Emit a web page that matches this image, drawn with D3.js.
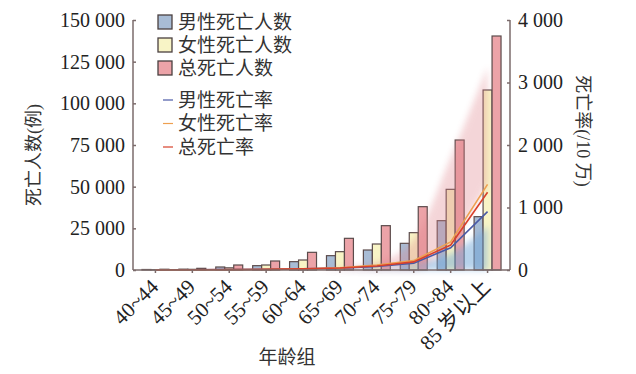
<!DOCTYPE html>
<html>
<head>
<meta charset="utf-8">
<script src="https://cdn.jsdelivr.net/npm/d3@7"></script>
<style>
  body { margin: 0; background: #fff; }
  svg text { font-family: "Liberation Serif", "Noto Sans CJK SC", serif; fill: #222; }
</style>
</head>
<body>
<svg id="chart" width="636" height="374"></svg>
<script>
/************************************ Data *******************************/
var ageGroups = ["40~44", "45~49", "50~54", "55~59", "60~64", "65~69", "70~74", "75~79", "80~84", "85 岁以上"];

// death counts (cases)
var maleDeaths   = [300, 500, 1800, 2600, 5000, 8600, 12000, 16000, 29600, 32000];
var femaleDeaths = [150, 400, 1300, 3000, 6000, 11000, 15600, 22400, 48400, 108000];
var totalDeaths  = [450, 1000, 3000, 5400, 10600, 19000, 26600, 38000, 78000, 140400];

// death rates (/10万)
var maleRate   = [2, 4, 7, 11, 18, 30, 55, 110, 355, 935];
var femaleRate = [1, 2, 5, 9, 17, 34, 80, 150, 450, 1370];
var totalRate  = [1, 3, 6, 10, 18, 32, 65, 130, 400, 1245];

// shaded bands
var totalBandLo = [0, 0, 0, 0, 0, 0, 0, 0, 420, 1380];
var totalBandHi = [0, 0, 0, 0, 0, 30, 120, 480, 1800, 3250];
var maleBandLo  = [0, 0, 0, 0, 0, 0, 0, 0, 0, 0];
var maleBandHi  = [0, 0, 0, 0, 0, 10, 40, 90, 260, 700];

var leftTicks  = [0, 25000, 50000, 75000, 100000, 125000, 150000];
var rightTicks = [0, 1000, 2000, 3000, 4000];

/************************************ Setup *******************************/
var svg = d3.select("#chart");
var pL = 133, pR = 510, pT = 20, pB = 270;
var axisColor = "#7b6b6b";
var fmt = function(v){ return d3.format(",")(v).replace(/,/g, " "); };

var x0 = d3.scaleBand().domain(ageGroups).range([pL, pR])
	.paddingInner(0.27).paddingOuter(0.243);
var series = ["male", "female", "total"];
var x1 = d3.scaleBand().domain(series).range([0, x0.bandwidth()]);
var yL = d3.scaleLinear().domain([0, 150000]).range([pB, pT]);
var yR = d3.scaleLinear().domain([0, 4000]).range([pB, pT]);

var barFill = { male: "#a8bcd5", female: "#f8f4c6", total: "#eca3a8" };
var lineColor = { male: "#4a5aa6", female: "#eea050", total: "#d8412c" };

var defs = svg.append("defs");
defs.append("filter").attr("id", "soft")
	.attr("x", "-20%").attr("y", "-20%").attr("width", "140%").attr("height", "140%")
	.append("feGaussianBlur").attr("stdDeviation", 3);

/************************************ Bars *******************************/
var rows = ageGroups.map(function(g, i){
	return { group: g, vals: [
		{ key: "male", v: maleDeaths[i] },
		{ key: "female", v: femaleDeaths[i] },
		{ key: "total", v: totalDeaths[i] }] };
});

svg.append("g").selectAll("g").data(rows).enter().append("g")
	.attr("transform", function(d){ return "translate(" + x0(d.group) + ",0)"; })
	.selectAll("rect").data(function(d){ return d.vals; }).enter().append("rect")
	.attr("x", function(d){ return x1(d.key); })
	.attr("y", function(d){ return yL(d.v); })
	.attr("width", x1.bandwidth())
	.attr("height", function(d){ return pB - yL(d.v); })
	.style("fill", function(d){ return barFill[d.key]; })
	.style("stroke", "#5b4b4b")
	.style("stroke-width", 1.2);

/************************************ Bands *******************************/
var cx = function(i){ return x0(ageGroups[i]) + x0.bandwidth() / 2; };
var idx = d3.range(ageGroups.length);

var band = function(lo, hi){
	return d3.area().x(function(i){ return cx(i); })
		.y0(function(i){ return yR(lo[i]); })
		.y1(function(i){ return yR(hi[i]); })
		.curve(d3.curveMonotoneX);
};
svg.append("path").datum(idx).attr("d", band(totalBandLo, totalBandHi))
	.style("fill", "#df8088").style("opacity", 0.32).attr("filter", "url(#soft)");
svg.append("path").datum(idx).attr("d", band(maleBandLo, maleBandHi))
	.style("fill", "#6fa6d8").style("opacity", 0.5).attr("filter", "url(#soft)");

/************************************ Lines *******************************/
var rateLine = function(arr){
	return d3.line().x(function(i){ return cx(i); }).y(function(i){ return yR(arr[i]); });
};
[["male", maleRate], ["female", femaleRate], ["total", totalRate]].forEach(function(s){
	svg.append("path").datum(idx).attr("d", rateLine(s[1]))
		.style("fill", "none").style("stroke", lineColor[s[0]]).style("stroke-width", 1.6);
});

/************************************ Axes *******************************/
var gL = svg.append("g").attr("transform", "translate(" + pL + ",0)")
	.call(d3.axisLeft(yL).tickValues(leftTicks).tickFormat(fmt).tickSizeInner(-3).tickSizeOuter(0).tickPadding(8));
var gR = svg.append("g").attr("transform", "translate(" + pR + ",0)")
	.call(d3.axisRight(yR).tickValues(rightTicks).tickFormat(fmt).tickSizeInner(-3).tickSizeOuter(0).tickPadding(8));
var gB = svg.append("g").attr("transform", "translate(0," + pB + ")")
	.call(d3.axisBottom(x0).tickSizeInner(3).tickSizeOuter(0).tickPadding(4));

[gL, gR, gB].forEach(function(g){
	g.selectAll("path, line").style("stroke", axisColor).style("stroke-width", 1.5);
	g.selectAll("text").style("font-size", "20px").style("fill", "#222")
		.style("font-family", "'Liberation Serif', 'Noto Sans CJK SC', serif");
});
gB.select(".domain").attr("d", "M" + pL + ",0H" + pR);
gL.select(".domain").attr("d", "M0," + pT + "V" + pB);
gR.select(".domain").attr("d", "M0," + pT + "V" + pB);
gB.selectAll("text")
	.style("font-size", "21px")
	.attr("text-anchor", "end")
	.attr("dy", "0.35em")
	.attr("transform", "translate(-6,8) rotate(-45)");

/************************************ Titles *******************************/
svg.append("text").attr("x", 287).attr("y", 364).attr("text-anchor", "middle")
	.style("font-size", "19px").style("fill", "#333").text("年龄组");
svg.append("text").attr("transform", "translate(40,155) rotate(-90)").attr("text-anchor", "middle")
	.style("font-size", "18px").style("fill", "#333").text("死亡人数(例)");
svg.append("text").attr("transform", "translate(577,131) rotate(90)").attr("text-anchor", "middle")
	.style("font-size", "18px").style("fill", "#333").text("死亡率(/10 万)");

/************************************ Legend *******************************/
var legendBars = [["male", "男性死亡人数"], ["female", "女性死亡人数"], ["total", "总死亡人数"]];
var legendLines = [["male", "男性死亡率"], ["female", "女性死亡率"], ["total", "总死亡率"]];
var lg = svg.append("g");
legendBars.forEach(function(d, i){
	var yy = 22 + i * 23;
	lg.append("rect").attr("x", 158).attr("y", yy - 7).attr("width", 14).attr("height", 14)
		.style("fill", barFill[d[0]]).style("stroke", "#4a4040").style("stroke-width", 1.3);
	lg.append("text").attr("x", 178).attr("y", yy).attr("dy", "0.35em")
		.style("font-size", "19px").style("fill", "#333").text(d[1]);
});
legendLines.forEach(function(d, i){
	var yy = 100 + i * 23.5;
	lg.append("line").attr("x1", 163).attr("x2", 173).attr("y1", yy).attr("y2", yy)
		.style("stroke", lineColor[d[0]]).style("stroke-width", 1.2);
	lg.append("text").attr("x", 178).attr("y", yy).attr("dy", "0.35em")
		.style("font-size", "19px").style("fill", "#333").text(d[1]);
});
</script>
</body>
</html>
